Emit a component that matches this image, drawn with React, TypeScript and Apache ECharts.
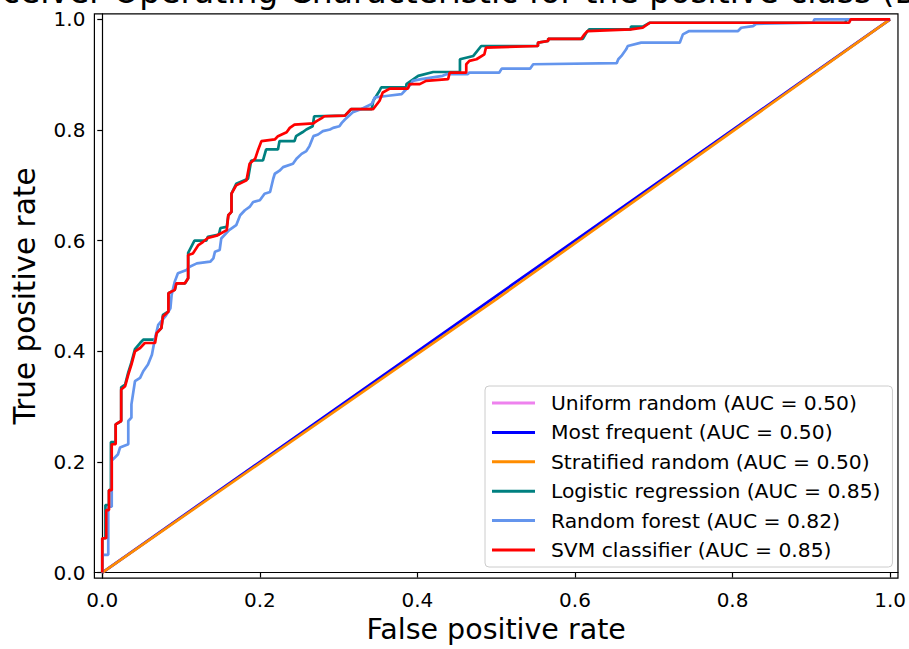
import React, { useEffect, useRef } from "react";
import * as echarts from "echarts";

const FONT = "DejaVu Sans";

const seriesNames = [
  "Uniform random (AUC = 0.50)",
  "Most frequent (AUC = 0.50)",
  "Stratified random (AUC = 0.50)",
  "Logistic regression (AUC = 0.85)",
  "Random forest (AUC = 0.82)",
  "SVM classifier (AUC = 0.85)",
];
const seriesColors = ["#EE82EE", "#0000FF", "#FF8C00", "#008080", "#6495ED", "#FF0000"];

const tickValues = [0, 0.2, 0.4, 0.6, 0.8, 1.0];

const uniformRoc = [[0, 0], [1, 1]];
const mostFrequentRoc = [[0, 0], [1, 1]];
const stratifiedRoc = [[0, 0], [0.5, 0.494], [1, 1]];

const logisticRoc = [
  [0, 0], [0, 0.062], [0.004, 0.062], [0.004, 0.122], [0.0085, 0.122], [0.0085, 0.149], [0.011, 0.149],
  [0.011, 0.236], [0.017, 0.236], [0.017, 0.268], [0.024, 0.274], [0.024, 0.335], [0.029, 0.34],
  [0.033, 0.362], [0.037, 0.38], [0.0415, 0.404], [0.048, 0.415], [0.052, 0.421], [0.067, 0.421],
  [0.069, 0.433], [0.075, 0.442], [0.077, 0.466], [0.084, 0.472], [0.084, 0.505], [0.092, 0.511],
  [0.094, 0.523], [0.105, 0.523], [0.109, 0.532], [0.109, 0.578], [0.117, 0.6], [0.132, 0.6],
  [0.134, 0.607], [0.148, 0.611], [0.15, 0.623], [0.158, 0.625], [0.16, 0.646], [0.164, 0.652],
  [0.164, 0.685], [0.17, 0.703], [0.185, 0.712], [0.189, 0.745], [0.204, 0.745], [0.208, 0.765],
  [0.223, 0.765], [0.225, 0.78], [0.244, 0.78], [0.246, 0.789], [0.254, 0.796], [0.259, 0.801],
  [0.267, 0.807], [0.269, 0.825], [0.308, 0.826], [0.316, 0.838], [0.342, 0.838], [0.344, 0.853],
  [0.352, 0.871], [0.354, 0.877], [0.386, 0.877], [0.386, 0.883], [0.401, 0.898], [0.42, 0.905],
  [0.454, 0.905], [0.454, 0.928], [0.471, 0.934], [0.481, 0.952], [0.553, 0.952], [0.553, 0.958],
  [0.566, 0.961], [0.566, 0.965], [0.61, 0.965], [0.614, 0.975], [0.618, 0.982], [0.671, 0.982],
  [0.671, 0.987], [0.686, 0.987], [0.695, 0.994], [0.943, 0.994], [0.945, 1.0], [1, 1],
];

const forestRoc = [
  [0, 0], [0, 0.032], [0.0076, 0.032], [0.0076, 0.119], [0.012, 0.119], [0.012, 0.2025], [0.016, 0.208],
  [0.02, 0.214], [0.0225, 0.226], [0.033, 0.232], [0.033, 0.274], [0.037, 0.28], [0.037, 0.304],
  [0.0415, 0.346], [0.048, 0.352], [0.052, 0.364], [0.058, 0.376], [0.063, 0.394], [0.067, 0.424],
  [0.071, 0.448], [0.08, 0.463], [0.0865, 0.478], [0.088, 0.502], [0.092, 0.526], [0.096, 0.541],
  [0.107, 0.547], [0.111, 0.553], [0.12, 0.559], [0.137, 0.562], [0.141, 0.568], [0.143, 0.58],
  [0.149, 0.583], [0.151, 0.604], [0.161, 0.619], [0.17, 0.628], [0.175, 0.646], [0.181, 0.655],
  [0.187, 0.661], [0.1915, 0.67], [0.2, 0.673], [0.206, 0.685], [0.213, 0.688], [0.217, 0.712],
  [0.219, 0.721], [0.225, 0.7265], [0.2295, 0.733], [0.242, 0.739], [0.2465, 0.748], [0.253, 0.757],
  [0.259, 0.762], [0.263, 0.771], [0.268, 0.789], [0.274, 0.792], [0.28, 0.798], [0.289, 0.801],
  [0.293, 0.804], [0.301, 0.807], [0.304, 0.813], [0.308, 0.819], [0.318, 0.832], [0.329, 0.838],
  [0.342, 0.847], [0.346, 0.859], [0.363, 0.862], [0.38, 0.865], [0.384, 0.871], [0.392, 0.883],
  [0.394, 0.889], [0.405, 0.892], [0.432, 0.898], [0.437, 0.901], [0.464, 0.901], [0.466, 0.904],
  [0.504, 0.904], [0.507, 0.911], [0.543, 0.911], [0.547, 0.919], [0.653, 0.921], [0.655, 0.928],
  [0.659, 0.934], [0.665, 0.946], [0.667, 0.952], [0.684, 0.958], [0.733, 0.958], [0.737, 0.973],
  [0.745, 0.979], [0.807, 0.979], [0.811, 0.985], [0.826, 0.988], [0.83, 0.992], [0.902, 0.994],
  [0.904, 1.0], [1, 1],
];

const svmRoc = [
  [0, 0], [0, 0.062], [0.005, 0.062], [0.005, 0.113], [0.0085, 0.113], [0.0085, 0.149], [0.012, 0.149],
  [0.012, 0.232], [0.017, 0.232], [0.017, 0.268], [0.024, 0.274], [0.024, 0.331], [0.029, 0.337],
  [0.033, 0.358], [0.037, 0.376], [0.0415, 0.4], [0.048, 0.406], [0.054, 0.415], [0.067, 0.415],
  [0.069, 0.433], [0.075, 0.442], [0.077, 0.463], [0.084, 0.472], [0.084, 0.505], [0.092, 0.511],
  [0.094, 0.523], [0.105, 0.523], [0.109, 0.532], [0.109, 0.574], [0.115, 0.577], [0.122, 0.592],
  [0.128, 0.598], [0.134, 0.605], [0.145, 0.609], [0.158, 0.619], [0.16, 0.646], [0.164, 0.652],
  [0.164, 0.685], [0.17, 0.7], [0.183, 0.709], [0.187, 0.739], [0.194, 0.748], [0.198, 0.765],
  [0.202, 0.78], [0.219, 0.783], [0.223, 0.789], [0.234, 0.796], [0.238, 0.804], [0.244, 0.81],
  [0.268, 0.812], [0.272, 0.816], [0.278, 0.821], [0.282, 0.825], [0.308, 0.826], [0.316, 0.838],
  [0.344, 0.838], [0.352, 0.853], [0.356, 0.868], [0.365, 0.875], [0.388, 0.875], [0.39, 0.883],
  [0.403, 0.883], [0.411, 0.889], [0.439, 0.892], [0.441, 0.904], [0.462, 0.904], [0.462, 0.919],
  [0.466, 0.925], [0.475, 0.928], [0.485, 0.937], [0.487, 0.949], [0.553, 0.952], [0.553, 0.958],
  [0.566, 0.961], [0.566, 0.965], [0.608, 0.965], [0.612, 0.973], [0.616, 0.979], [0.671, 0.982],
  [0.686, 0.985], [0.695, 0.994], [0.948, 0.994], [0.95, 1.0], [1, 1],
];

const curves = [uniformRoc, mostFrequentRoc, stratifiedRoc, logisticRoc, forestRoc, svmRoc];

export default function App() {
  const ref = useRef<HTMLDivElement>(null);
  useEffect(() => {
    if (!ref.current) return;
    const chart = echarts.init(ref.current, null, { renderer: "svg" });
    const axisCommon = {
      type: "value" as const,
      min: -0.01,
      max: 1.01,
      splitLine: { show: false },
      axisLine: { show: true, lineStyle: { color: "#000", width: 1.2 } },
      axisTick: {
        show: true,
        customValues: tickValues,
        length: 5,
        inside: false,
        lineStyle: { color: "#000", width: 1.2 },
      },
      axisLabel: {
        customValues: tickValues,
        formatter: (v: number) => v.toFixed(1),
        color: "#000",
        fontSize: 20,
        fontFamily: FONT,
      },
      nameLocation: "middle" as const,
      nameTextStyle: { color: "#000", fontSize: 28.5, fontFamily: FONT },
    };
    chart.setOption({
      animation: false,
      backgroundColor: "#fff",
      grid: {
        left: 94.4,
        right: 10.3,
        top: 13.9,
        bottom: 67.4,
        show: true,
        borderColor: "#000",
        borderWidth: 1.2,
        backgroundColor: "transparent",
      },
      xAxis: {
        ...axisCommon,
        name: "False positive rate",
        nameGap: 36,
        axisLabel: { ...axisCommon.axisLabel, margin: 12 },
      },
      yAxis: {
        ...axisCommon,
        name: "True positive rate",
        nameGap: 54,
        nameTextStyle: { color: "#000", fontSize: 29.5, fontFamily: FONT },
        axisLabel: { ...axisCommon.axisLabel, margin: 9 },
      },
      legend: {
        orient: "vertical",
        left: 485,
        top: 386,
        padding: [7, 12, 7, 7],
        itemWidth: 43,
        itemHeight: 3,
        itemGap: 9.4,
        icon: "rect",
        backgroundColor: "rgba(255,255,255,0.8)",
        borderColor: "#cccccc",
        borderWidth: 1,
        borderRadius: 4,
        data: seriesNames,
        textStyle: {
          color: "#000",
          fontSize: 20.3,
          fontFamily: FONT,
          lineHeight: 20,
          padding: [0, 0, 0, 11],
        },
      },
      graphic: [
        {
          type: "text",
          x: -40,
          y: -9,
          silent: true,
          style: {
            text: "Receiver Operating Characteristic for the positive class (Diabetes)",
            fontSize: 33,
            fontFamily: FONT,
            fill: "#000",
            align: "left",
            verticalAlign: "middle",
          },
        },
      ],
      series: curves.map((data, i) => ({
        type: "line",
        name: seriesNames[i],
        data,
        showSymbol: false,
        symbol: "none",
        color: seriesColors[i],
        lineStyle: { color: seriesColors[i], width: 2.7 },
        clip: true,
        z: 2 + i,
      })),
    });
    return () => chart.dispose();
  }, []);
  return (
    <div
      ref={ref}
      style={{ position: "fixed", left: 0, top: 0, width: 909, height: 649, background: "#fff" }}
    />
  );
}
